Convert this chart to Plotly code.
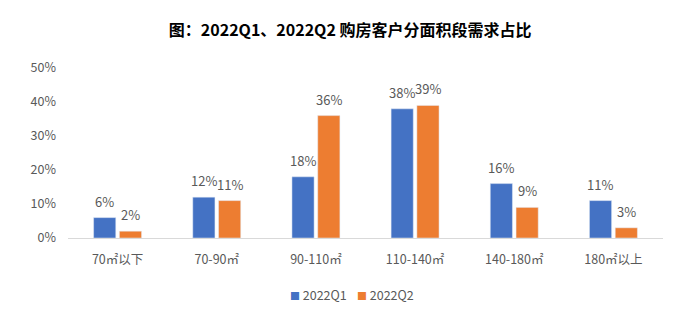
import plotly.graph_objects as go

categories = ["70㎡以下", "70-90㎡", "90-110㎡", "110-140㎡", "140-180㎡", "180㎡以上"]
q1_values = [6, 12, 18, 38, 16, 11]
q2_values = [2, 11, 36, 39, 9, 3]
series_names = ["2022Q1", "2022Q2"]
y_ticks = [0, 10, 20, 30, 40, 50]

colors = ["#4472C4", "#ED7D31"]
font_family = "Noto Sans CJK SC, Microsoft YaHei, sans-serif"
grey = "#595959"

fig = go.Figure()
for name, vals, col in zip(series_names, [q1_values, q2_values], colors):
    fig.add_trace(go.Bar(x=categories, y=vals, name=name, marker_color=col,
                         showlegend=False))

# value labels above each bar, offset to the bar's slot within the group
for vals, dx in zip([q1_values, q2_values], [-13, 13]):
    for cat, v in zip(categories, vals):
        fig.add_annotation(x=cat, y=v, text=f"{v}%", showarrow=False,
                           xshift=dx, yshift=5, yanchor="bottom",
                           font=dict(size=13, color=grey, family=font_family))

# legend row with square swatches
legend_x = [0.37, 0.483]
for name, col, lx in zip(series_names, colors, legend_x):
    fig.add_annotation(x=lx, y=-0.335, xref="paper", yref="paper",
                       xanchor="left", yanchor="middle", showarrow=False,
                       text=f"<span style='color:{col};font-size:10px'>■</span> {name}",
                       font=dict(size=12.5, color=grey, family=font_family))

fig.update_layout(
    width=680, height=323,
    margin=dict(l=68, r=17, t=68, b=85),
    paper_bgcolor="white", plot_bgcolor="white",
    barmode="group", bargap=0.48, bargroupgap=0.14,
    title=dict(text="<b>图：2022Q1、2022Q2 购房客户分面积段需求占比</b>",
               x=0.515, xanchor="center", y=0.905, yanchor="middle",
               font=dict(size=16, color="#000000", family=font_family)),
    font=dict(family=font_family, color=grey, size=12),
    showlegend=False,
)
fig.update_xaxes(showline=True, linecolor="#D9D9D9", linewidth=1, ticks="",
                 tickfont=dict(size=12.5, color=grey), ticklabelstandoff=10)
fig.update_yaxes(range=[0, 50], tickvals=y_ticks, ticktext=[f"{t}%" for t in y_ticks],
                 showgrid=False, zeroline=False, showline=False,
                 tickfont=dict(size=12.5, color=grey), ticklabelstandoff=11)

fig.write_html("out.html")
